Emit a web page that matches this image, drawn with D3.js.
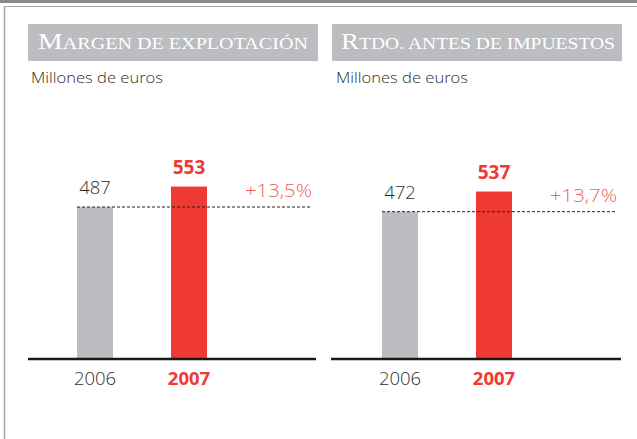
<!DOCTYPE html>
<html>
<head>
<meta charset="utf-8">
<script src="https://cdn.jsdelivr.net/npm/d3@7"></script>
<style>
  html, body { margin: 0; padding: 0; background: #fff; }
  svg { display: block; }
</style>
</head>
<body>
<svg id="chart" width="637" height="439"></svg>
<script>
// Years shown on each panel
const years = ["2006", "2007"];

// Panel titles (initial letter large, rest in small capitals)
const titles = ["Margen de explotación", "Rtdo. antes de impuestos"];
const subtitle = "Millones de euros";

// Values in millions of euros, one array per panel
const margenValues = [487, 553];
const rtdoValues = [472, 537];

// Year-over-year growth labels
const growthLabels = ["+13,5%", "+13,7%"];

const panels = [
  { title: titles[0], values: margenValues, growth: growthLabels[0] },
  { title: titles[1], values: rtdoValues, growth: growthLabels[1] }
];

const svg = d3.select("#chart");
const W = 637, H = 439;

const GREY = "#bcbdc0", RED = "#ee3a32", RED_LIGHT = "#f2605a", DARK = "#2e2e2e";
const SANS = "'Open Sans', 'Noto Sans', sans-serif";
const SERIF = "'Liberation Serif', 'DejaVu Serif', serif";
const LIGHT = 350;

// Page frame: dark strip on top, thin rule below it, left rule
svg.append("rect").attr("x", 0).attr("y", 0).attr("width", W).attr("height", 3).attr("fill", "#8a8a8a");
svg.append("line").attr("x1", 4).attr("x2", W).attr("y1", 6.5).attr("y2", 6.5)
  .attr("stroke", "#a8a8a8").attr("stroke-width", 1.2);
svg.append("line").attr("x1", 4.5).attr("x2", 4.5).attr("y1", 6).attr("y2", H)
  .attr("stroke", "#a8a8a8").attr("stroke-width", 1.5);

// Shared value scale
const y = d3.scaleLinear().domain([0, 600]).range([358, 172]);

// Layout for each panel
const layout = [
  { band: [28, 318], titleSpan: [38, 308], sub: 31, axis: [28, 316], bars: [77, 207], dashEnd: 312 },
  { band: [332, 622], titleSpan: [341, 615], sub: 336, axis: [331, 621], bars: [382, 512], dashEnd: 617 }
];

// Stretch a text element to a given width
function fit(sel, w) {
  sel.attr("textLength", w).attr("lengthAdjust", "spacingAndGlyphs");
}

panels.forEach((p, i) => {
  const L = layout[i];
  const g = svg.append("g");

  // Title band
  g.append("rect").attr("x", L.band[0]).attr("y", 24)
    .attr("width", L.band[1] - L.band[0]).attr("height", 37).attr("fill", GREY);

  const t = g.append("text").attr("x", L.titleSpan[0]).attr("y", 49)
    .attr("fill", "#fff").attr("font-family", SERIF);
  t.append("tspan").text(p.title[0].toUpperCase()).attr("font-size", 23.5);
  t.append("tspan").text(p.title.slice(1).toUpperCase()).attr("font-size", 17);
  fit(t, L.titleSpan[1] - L.titleSpan[0]);

  // Subtitle
  const s = g.append("text").attr("x", L.sub).attr("y", 83)
    .attr("font-family", SANS).attr("font-size", 15).attr("font-weight", LIGHT).attr("fill", DARK)
    .text(subtitle);
  fit(s, 132);

  // Category scale
  const x = d3.scaleBand().domain(years).range(L.bars).paddingInner(58 / 94).paddingOuter(0);

  // Bars
  g.selectAll("rect.bar").data(p.values).join("rect")
    .attr("class", "bar")
    .attr("x", (d, j) => x(years[j]))
    .attr("width", x.bandwidth())
    .attr("y", d => y(d))
    .attr("height", d => y(0) - y(d))
    .attr("fill", (d, j) => j === 0 ? GREY : RED);

  // Reference line at the previous year's level
  g.append("line")
    .attr("x1", x(years[0])).attr("x2", L.dashEnd)
    .attr("y1", y(p.values[0])).attr("y2", y(p.values[0]))
    .attr("stroke", "#222").attr("stroke-width", 1).attr("stroke-dasharray", "3,2");

  // Value labels
  g.selectAll("text.val").data(p.values).join("text")
    .attr("class", "val")
    .attr("x", (d, j) => x(years[j]) + x.bandwidth() / 2)
    .attr("y", d => y(d) - 13)
    .attr("text-anchor", "middle")
    .attr("font-family", SANS)
    .attr("font-size", (d, j) => j === 0 ? 18.5 : 19)
    .attr("font-weight", (d, j) => j === 0 ? LIGHT : 700)
    .attr("fill", (d, j) => j === 0 ? DARK : RED)
    .text(d => d);

  // Growth label
  const gl = g.append("text").attr("x", L.dashEnd - 67).attr("y", y(p.values[0]) - 10)
    .attr("font-family", SANS).attr("font-size", 18.5).attr("font-weight", LIGHT)
    .attr("fill", RED_LIGHT).text(p.growth);
  fit(gl, 67);

  // Baseline axis with year labels
  g.append("line").attr("x1", L.axis[0]).attr("x2", L.axis[1])
    .attr("y1", 359).attr("y2", 359).attr("stroke", "#1a1a1a").attr("stroke-width", 2.5);

  g.selectAll("text.year").data(years).join("text")
    .attr("class", "year")
    .attr("x", d => x(d) + x.bandwidth() / 2)
    .attr("y", 385)
    .attr("text-anchor", "middle")
    .attr("font-family", SANS)
    .attr("font-size", 18.5)
    .attr("font-weight", (d, j) => j === 0 ? LIGHT : 700)
    .attr("fill", (d, j) => j === 0 ? DARK : RED)
    .text(d => d);
});
</script>
</body>
</html>
